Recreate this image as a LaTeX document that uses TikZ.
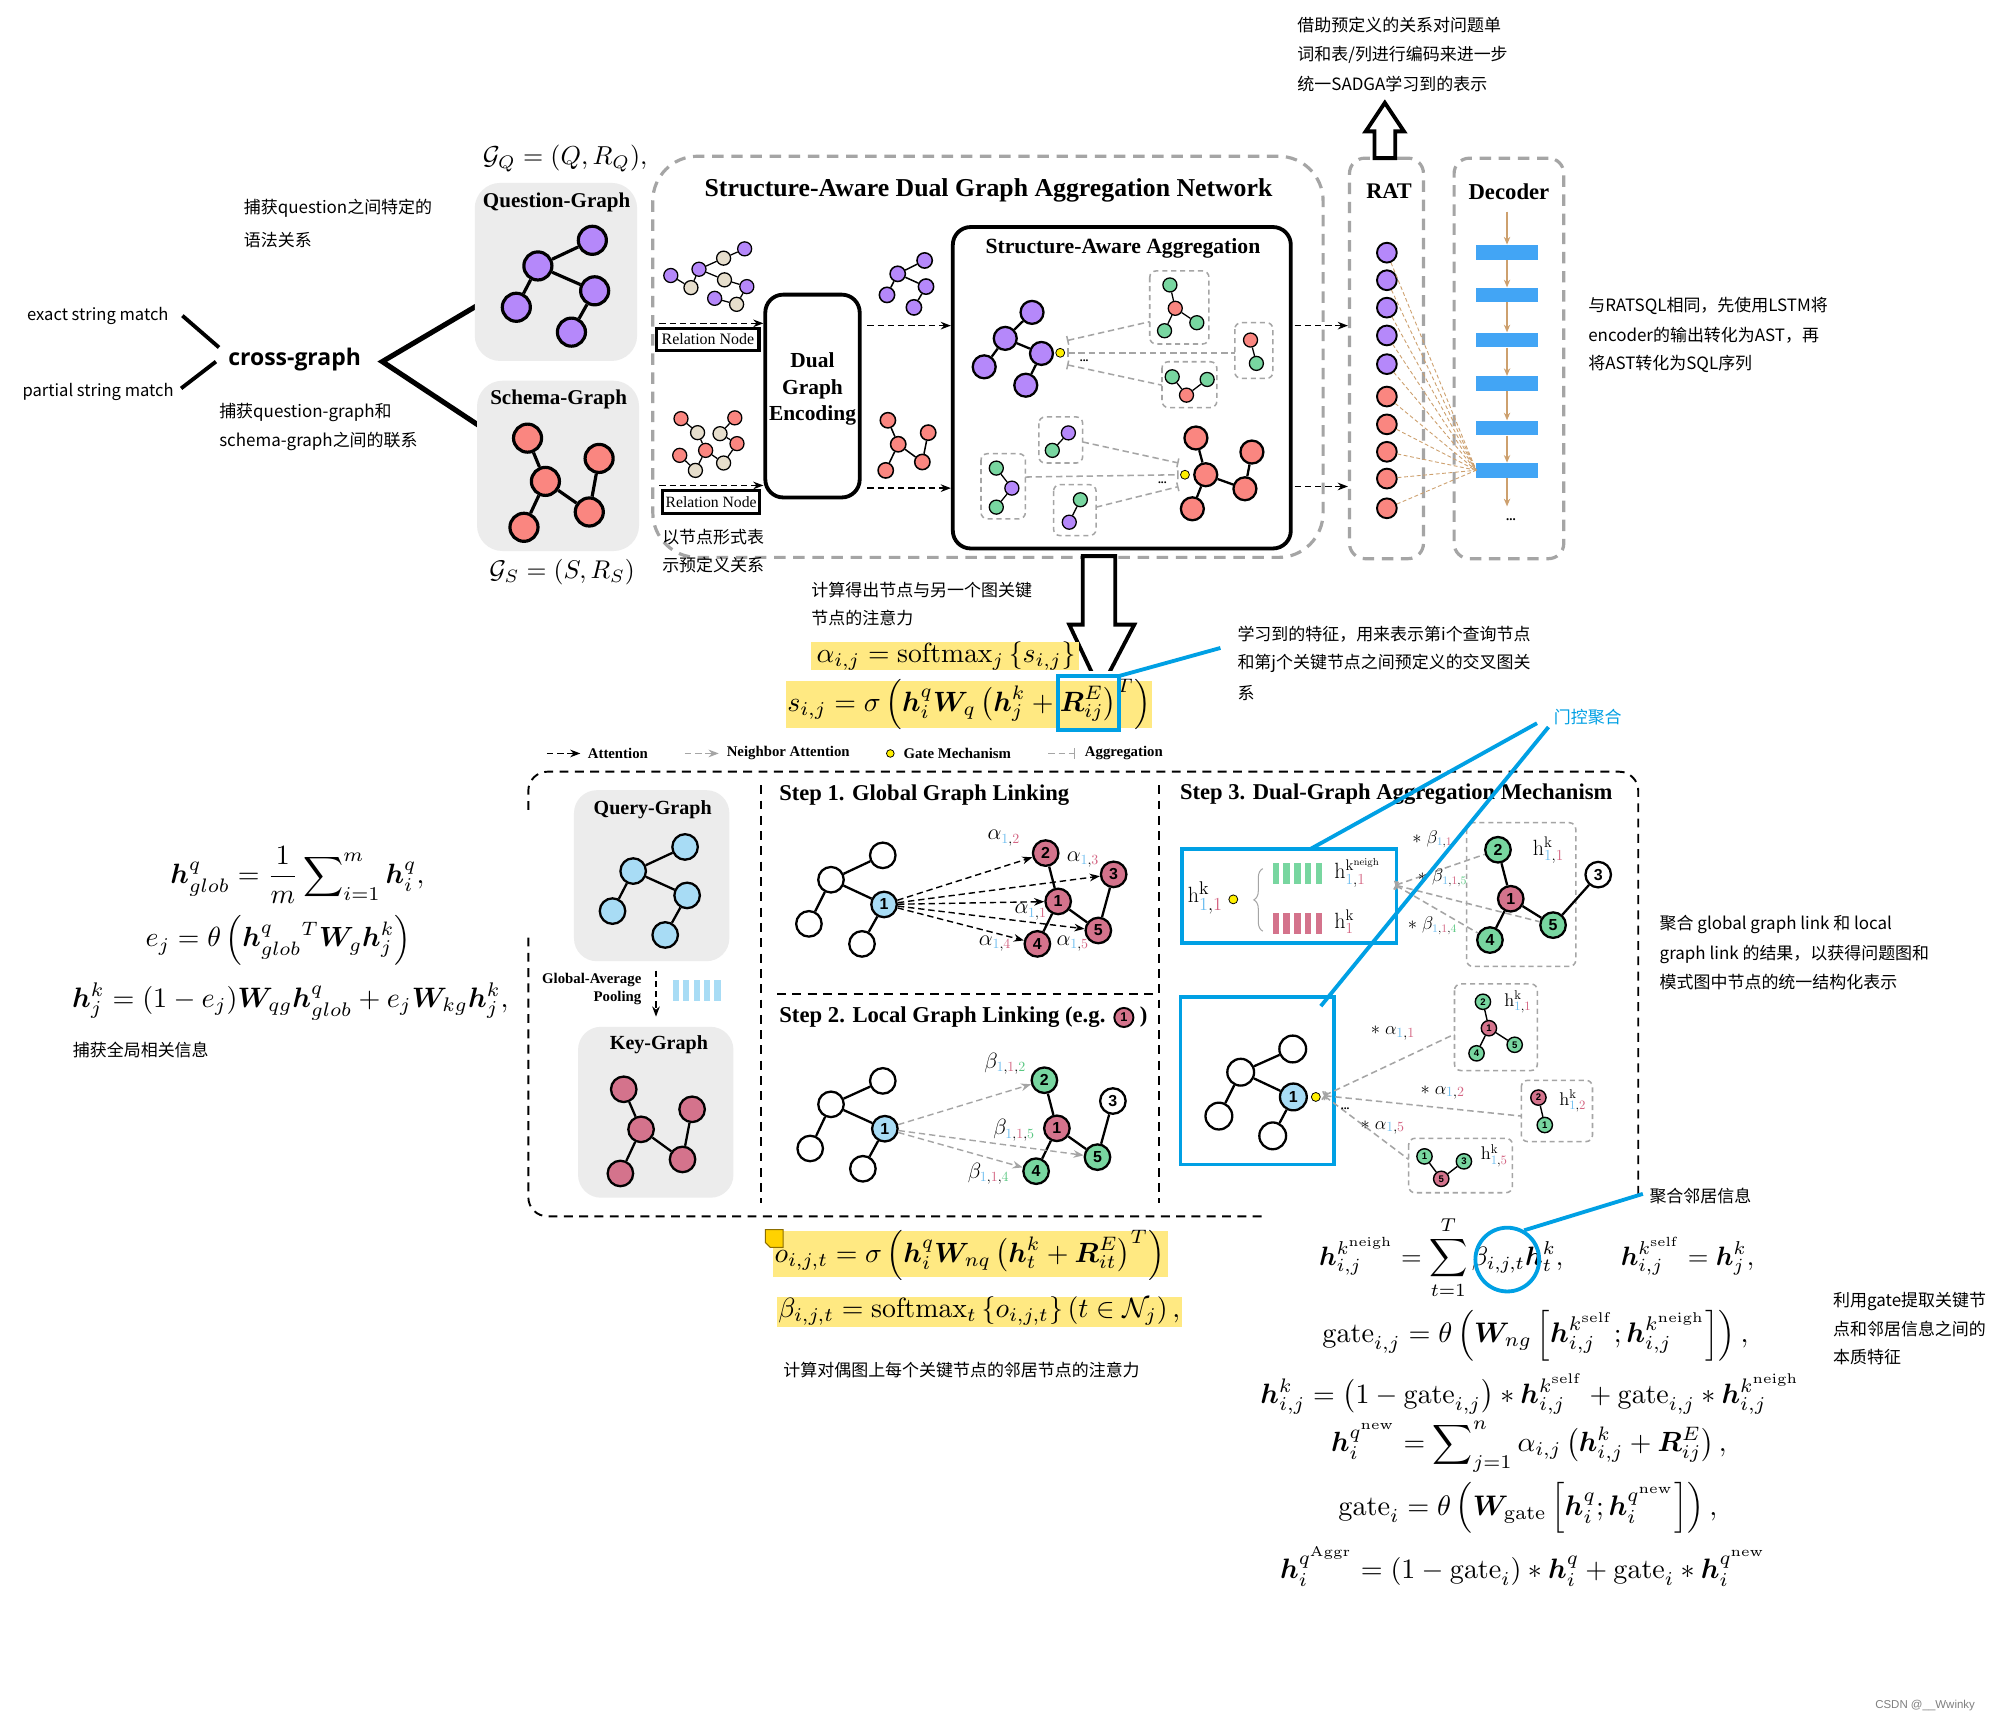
\documentclass[tikz,border=0pt]{standalone}
\usepackage[no-math]{fontspec}
\usepackage{amsmath,amssymb,bm}
\usepackage{graphicx}
\setmainfont{Liberation Serif}
\newfontfamily\cjk{Noto Sans CJK SC}
\newfontfamily\osans{Open Sans}
\newfontfamily\asans{Liberation Sans}
\usetikzlibrary{arrows.meta,calc,decorations.pathreplacing}
\definecolor{purp}{RGB}{181,136,250}
\definecolor{salm}{RGB}{250,134,128}
\definecolor{beig}{RGB}{230,222,204}
\definecolor{grn}{RGB}{120,214,160}
\definecolor{pnk}{RGB}{212,115,140}
\definecolor{lbl}{RGB}{168,220,245}
\definecolor{boxg}{RGB}{236,236,236}
\definecolor{dgr}{RGB}{165,165,165}
\definecolor{ablue}{RGB}{0,160,228}
\definecolor{barb}{RGB}{66,165,245}
\definecolor{tanc}{RGB}{205,160,110}
\definecolor{hly}{RGB}{255,233,130}
\definecolor{gatey}{RGB}{255,240,0}
\definecolor{sb}{RGB}{110,190,240}
\definecolor{sp}{RGB}{212,100,130}
\definecolor{sg}{RGB}{90,200,130}
\definecolor{noteY}{RGB}{255,210,0}
\definecolor{noteD}{RGB}{140,110,0}
\newcommand\fw[2]{\resizebox{#1pt}{!}{$\displaystyle #2$}}
\newcommand\alab[2]{$\alpha_{\textcolor{sb}{#1},\textcolor{sp}{#2}}$}
\newcommand\btlab[3]{$\beta_{\textcolor{sb}{#1},\textcolor{sp}{#2},\textcolor{sg}{#3}}$}
\newcommand\hklab[2]{$\mathrm{h}^{\mathrm{k}}_{\textcolor{sb}{#1},\textcolor{sp}{#2}}$}
\begin{document}
\begin{tikzpicture}[x=1pt,y=-1pt,
  big/.style={circle,draw,line width=2.5pt,minimum size=22pt,inner sep=0pt},
  ge/.style={line width=2.5pt},
  sm/.style={circle,draw,line width=1pt,minimum size=11pt,inner sep=0pt},
  se/.style={line width=1pt},
  md/.style={circle,draw,line width=1.8pt,minimum size=18pt,inner sep=0pt},
  me/.style={line width=1.8pt},
  ratn/.style={circle,draw,line width=1.5pt,minimum size=15.5pt,inner sep=0pt},
  stn/.style={circle,draw,line width=1.8pt,minimum size=20pt,inner sep=0pt,font=\asans\bfseries\fontsize{12.5}{12.5}\selectfont},
  ste/.style={line width=1.8pt},
  tn/.style={circle,draw,line width=1.1pt,minimum size=12pt,inner sep=0pt,font=\asans\bfseries\fontsize{7.5}{7.5}\selectfont},
  te/.style={line width=1.1pt},
  gate/.style={circle,draw,line width=0.6pt,fill=gatey,minimum size=7pt,inner sep=0pt},
  gbox/.style={draw=dgr,line width=1.2pt,dash pattern=on 4pt off 3pt,rounded corners=5pt},
  gdl/.style={draw=dgr,line width=1.2pt,dash pattern=on 5pt off 3pt},
  bigdash/.style={draw=dgr,line width=2.5pt,dash pattern=on 9pt off 6pt},
  bd/.style={draw=black,line width=1.5pt,dash pattern=on 7pt off 5pt},
  cn/.style={font=\cjk\fontsize{13.3}{16}\selectfont,anchor=west,inner sep=0pt},
  ttl/.style={font=\bfseries\fontsize{#1}{#1}\selectfont,inner sep=0pt},
  lab/.style={font=\fontsize{16}{16}\selectfont,inner sep=0pt},
  att/.style={draw=black,line width=1.1pt,dash pattern=on 5pt off 3pt,-{Stealth[length=8pt,width=6pt]}},
  natt/.style={draw=dgr,line width=1.1pt,dash pattern=on 5pt off 3pt,-{Stealth[length=8pt,width=6pt]}},
  tana/.style={draw=tanc,line width=1pt,-{Stealth[length=6pt,width=5pt]}},
  blu/.style={draw=ablue,line width=3pt},
  fm/.style={inner sep=0pt,anchor=west},
]
\fill[white] (0,0) rectangle (1568,1351);
\path[use as bounding box] (0,0) rectangle (1568,1351);

%% ---------- left top ----------
\node[cn] (t1) at (191,163.5) {捕获question之间特定的};
\node[cn] (t2) at (191,188.4) {语法关系};
\node[cn,font=\cjk\fontsize{13}{15}\selectfont] (esm) at (21,247.5) {exact string match};
\node[cn,font=\cjk\fontsize{13}{15}\selectfont] (psm) at (17.5,307.5) {partial string match};
\node[anchor=west,inner sep=0pt,font=\osans\bfseries\fontsize{18}{18}\selectfont] (cg) at (178.8,282) {cross-graph};
\coordinate (l1a) at (143,247.5); \coordinate (l1b) at (171.7,272.4);
\coordinate (l2a) at (142,304.5); \coordinate (l2b) at (169.3,283.5);
\draw[line width=3pt] (l1a) -- (l1b);
\draw[line width=3pt] (l2a) -- (l2b);
\coordinate (v1) at (381,235.5); \coordinate (v2) at (299.7,283.5); \coordinate (v3) at (376.8,334.5);
\draw[line width=4pt] (v1) -- (v2) -- (v3);
\node[cn] (t3) at (171.7,323.4) {捕获question-graph和};
\node[cn] (t4) at (171.7,345.9) {schema-graph之间的联系};

\fill[boxg,rounded corners=20pt] (372.2,143.4) rectangle (499.5,283);
\fill[boxg,rounded corners=20pt] (374,298.5) rectangle (501,432);
\node[ttl=16.5] (qgt) at (436.4,158.4) {Question-Graph};
\node[ttl=16.5] (sgt) at (438,313) {Schema-Graph};
\foreach \n/\x/\y in {q1/464.4/188.4, q2/421.7/208.5, q3/466.2/228, q4/404.8/240.9, q5/448/260.4}
  \node[big,fill=purp] (\n) at (\x,\y) {};
\draw[ge] (q2)--(q1) (q2)--(q3) (q2)--(q4) (q3)--(q5);
\foreach \n/\x/\y in {s1/413.6/343.5, s2/469.7/359.4, s3/427.6/377.4, s4/462/401.4, s5/410.8/413.4}
  \node[big,fill=salm] (\n) at (\x,\y) {};
\draw[ge] (s1)--(s3) (s3)--(s4) (s4)--(s2) (s3)--(s5);
\node[inner sep=0pt] (gq) at (443,124.5) {\fw{129}{\mathcal{G}_Q=(Q,R_Q),}};
\node[inner sep=0pt] (gs) at (440.7,448.5) {\fw{114}{\mathcal{G}_S=(S,R_S)}};

%% ---------- SADGA ----------
\node[bigdash,rounded corners=35pt,minimum width=525.5pt,minimum height=314.5pt,inner sep=0pt] (sadgabox) at (774.55,279.75) {};
\node[ttl=20.2] (sadga) at (775,149.5) {Structure-Aware Dual Graph Aggregation Network};

\foreach \n/\x/\y/\c in {a1/583.8/195.1/purp, a2/525.9/216.0/purp, a3/548.0/211.1/purp, a4/585.5/224.7/purp, a5/560.3/233.9/purp,
  b1/567.3/202.4/beig, b2/541.7/225.5/beig, b3/568.0/219.4/beig, b4/577.5/238.6/beig}
  \node[sm,fill=\c] (\n) at (\x,\y) {};
\draw[se] (a2)--(b2) (b2)--(a3) (a3)--(b1) (b1)--(a1) (a3)--(b3) (b3)--(a4) (a4)--(b4) (b4)--(a5);
\foreach \n/\x/\y/\c in {c1/533.9/328.2/salm, c2/576.1/327.6/salm, c3/553.2/353.1/salm, c4/532.9/357.0/salm, c5/577.8/347.8/salm,
  d1/546.9/339.2/beig, d2/564.5/340.0/beig, d3/545.2/368.8/beig, d4/567.3/363.0/beig}
  \node[sm,fill=\c] (\n) at (\x,\y) {};
\draw[se] (c1)--(d1) (d1)--(c3) (c3)--(d3) (d3)--(c4) (c3)--(d4) (d4)--(c5) (c5)--(d2) (d2)--(c2);

\node[draw,line width=3pt,rounded corners=14pt,minimum width=74pt,minimum height=159pt,inner sep=0pt] (enc) at (637,310.5) {};
\node[align=center,inner sep=0pt,font=\bfseries\fontsize{16.8}{20.5}\selectfont] (enct) at (637,305) {Dual\\Graph\\Encoding};

\coordinate (ra1) at (517,253.5); \coordinate (ra2) at (517,380.6);
\draw[att] (ra1) -- (enc.west |- ra1);
\draw[att] (ra2) -- (enc.west |- ra2);
\node[draw,line width=2.5pt,inner sep=0pt,minimum width=80pt,minimum height=17pt,font=\fontsize{12.5}{12.5}\selectfont] (rn1) at (555,266) {Relation Node};
\node[draw,line width=2.5pt,inner sep=0pt,minimum width=76pt,minimum height=18pt,font=\fontsize{12.3}{12.3}\selectfont] (rn2) at (557.5,393.5) {Relation Node};
\node[cn] (t5) at (519,421) {以节点形式表};
\node[cn] (t6) at (519,443) {示预定义关系};

\foreach \n/\x/\y in {m1/724.9/204.2, m2/703.8/214.7, m3/726.0/224.7, m4/695.4/231.2, m5/716.5/241.0}
  \node[sm,minimum size=12pt,line width=1.2pt,fill=purp] (\n) at (\x,\y) {};
\draw[se,line width=1.2pt] (m2)--(m1) (m2)--(m3) (m2)--(m4) (m3)--(m5);
\foreach \n/\x/\y in {n1/696.1/329.5, n2/727.7/339.2, n3/704.2/348.3, n4/723.1/362.2, n5/694.4/368.8}
  \node[sm,minimum size=12pt,line width=1.2pt,fill=salm] (\n) at (\x,\y) {};
\draw[se,line width=1.2pt] (n1)--(n3) (n3)--(n4) (n4)--(n2) (n3)--(n5);

\node[draw,line width=3pt,rounded corners=14pt,minimum width=265pt,minimum height=252pt,inner sep=0pt] (saa) at (879.5,304) {};
\node[ttl=17] (saat) at (880.4,194.6) {Structure-Aware Aggregation};
\coordinate (ea1) at (680,255.3); \coordinate (ea2) at (680,382.7);
\draw[att] (ea1) -- (saa.west |- ea1);
\draw[att] (ea2) -- (saa.west |- ea2);

% upper aggregation
\foreach \n/\x/\y in {A1/809.1/244.9, A2/788.1/265.3, A3/816.5/277.1, A4/771.6/287.6, A5/804.2/302.0}
  \node[md,fill=purp] (\n) at (\x,\y) {};
\draw[me] (A2)--(A1) (A2)--(A3) (A2)--(A4) (A3)--(A5);
\draw[gbox] (901.4,212.4) rectangle (947.8,269.7);
\draw[gbox] (968.1,253) rectangle (998,296.7);
\draw[gbox] (911,283.6) rectangle (954,319.5);
\foreach \n/\x/\y/\c in {ba1/917.2/223.4/grn, ba2/921.4/241.7/salm, ba3/913.0/259.3/grn, ba4/938.3/253.0/grn,
  bb1/980.4/266.6/salm, bb2/985/284.9/grn, bc1/919/295.4/grn, bc2/946.4/297.5/grn, bc3/930.2/309.8/salm}
  \node[sm,fill=\c] (\n) at (\x,\y) {};
\draw[se] (ba1)--(ba2) (ba2)--(ba3) (ba2)--(ba4) (bb1)--(bb2) (bc1)--(bc3) (bc3)--(bc2);
\node[gate] (g1) at (831.2,276.6) {};
\coordinate (g1a) at (836.5,267); \coordinate (g1b) at (836.5,276.6); \coordinate (g1c) at (836.5,286);
\coordinate (ta) at (901.4,252.2); \coordinate (tb) at (968.1,276.6); \coordinate (tc) at (911,302);
\draw[gdl,{Bar[width=7pt]}-] (g1a) -- (ta);
\draw[gdl,{Bar[width=7pt]}-] (g1b) -- (tb);
\draw[gdl,{Bar[width=7pt]}-] (g1c) -- (tc);
\node[font=\bfseries\fontsize{9}{9}\selectfont,inner sep=0pt] (dots1) at (850,283) {...};

% lower aggregation
\foreach \n/\x/\y in {E1/937.6/343.4, E2/981.5/354.4, E3/945.3/372.2, E4/976/383.2, E5/934.8/398.9}
  \node[md,fill=salm] (\n) at (\x,\y) {};
\draw[me] (E1)--(E3) (E3)--(E4) (E4)--(E2) (E3)--(E5);
\draw[gbox] (814.4,326.9) rectangle (848.8,363);
\draw[gbox] (769.1,355.7) rectangle (803.9,406.8);
\draw[gbox] (826,380) rectangle (859.3,419.9);
\foreach \n/\x/\y/\c in {bd1/837.6/339.4/purp, bd2/825/353.1/grn, be1/781.1/367/grn, be2/793.3/382.7/purp, be3/781.1/397.6/grn,
  bf1/847/391.8/grn, bf2/838.3/409.4/purp}
  \node[sm,fill=\c] (\n) at (\x,\y) {};
\draw[se] (bd1)--(bd2) (be1)--(be2) (be2)--(be3) (bf1)--(bf2);
\node[gate] (g2) at (929,372.2) {};
\coordinate (g2a) at (924,363); \coordinate (g2b) at (924,372.2); \coordinate (g2c) at (924,381.5);
\coordinate (td) at (848.8,346.5); \coordinate (te) at (803.9,374); \coordinate (tf) at (859.3,397.6);
\draw[gdl,-{Bar[width=7pt]}] (td) -- (g2a);
\draw[gdl,-{Bar[width=7pt]}] (te) -- (g2b);
\draw[gdl,-{Bar[width=7pt]}] (tf) -- (g2c);
\node[font=\bfseries\fontsize{9}{9}\selectfont,inner sep=0pt] (dots2) at (911.3,378.5) {...};

%% ---------- RAT / Decoder ----------
\node[bigdash,rounded corners=12pt,minimum width=58pt,minimum height=314pt,inner sep=0pt] (ratbox) at (1087,281) {};
\node[bigdash,rounded corners=12pt,minimum width=86pt,minimum height=314pt,inner sep=0pt] (decbox) at (1183,281) {};
\node[ttl=17.5] (ratt) at (1089,150) {RAT};
\node[ttl=17.8] (dect) at (1183,150) {Decoder};
\coordinate (oa1) at (1015,255.3); \coordinate (oa2) at (1015,381.4);
\draw[att] (oa1) -- (ratbox.west |- oa1);
\draw[att] (oa2) -- (ratbox.west |- oa2);
\foreach \i/\y in {1/197.7, 2/231.2, 3/266.5, 4/300.7, 5/335.5, 6/368.7}
  \node[fill=barb,minimum width=48pt,minimum height=11.5pt,inner sep=0pt] (dk\i) at (1181.5,\y) {};
\coordinate (dtop) at (1181.5,166); \coordinate (dend) at (1181.5,397);
\draw[tana] (dtop) -- (dk1);
\draw[tana] (dk1) -- (dk2); \draw[tana] (dk2) -- (dk3); \draw[tana] (dk3) -- (dk4);
\draw[tana] (dk4) -- (dk5); \draw[tana] (dk5) -- (dk6); \draw[tana] (dk6) -- (dend);
\node[font=\bfseries\fontsize{10}{10}\selectfont,inner sep=0pt] (dots3) at (1184.6,407.5) {...};
\foreach \i/\y/\c in {1/198.1/purp, 2/219.7/purp, 3/241.2/purp, 4/263.0/purp, 5/285.5/purp,
  6/310.9/salm, 7/332.7/salm, 8/354.2/salm, 9/375.2/salm, 10/398.5/salm}
  \node[ratn,fill=\c] (r\i) at (1087.3,\y) {};
\foreach \i in {1,...,10}
  \draw[tanc,line width=0.7pt,dash pattern=on 3pt off 2pt] (r\i) -- (dk6.west);
\draw[line width=3pt,fill=white] (1077.6,124) -- (1077.6,103) -- (1070.7,103) -- (1085.7,80.6) -- (1100.7,103) -- (1093.8,103) -- (1093.8,124) -- cycle;
\node[cn] (t7) at (1017,20) {借助预定义的关系对问题单};
\node[cn] (t8) at (1017,43) {词和表/列进行编码来进一步};
\node[cn] (t9) at (1017,66) {统一SADGA学习到的表示};
\node[cn] (t10) at (1245,240) {与RATSQL相同，先使用LSTM将};
\node[cn] (t11) at (1245,263) {encoder的输出转化为AST，再};
\node[cn] (t12) at (1245,285) {将AST转化为SQL序列};

%% ---------- middle formulas ----------
\draw[line width=3pt,fill=white] (848.8,436) -- (848.8,489.7) -- (838.3,489.7) -- (862.5,541) -- (889.3,489.7) -- (874.3,489.7) -- (874.3,436) -- cycle;
\fill[white] (612,526) rectangle (905,576);
\node[cn] (t13) at (636,462.5) {计算得出节点与另一个图关键};
\node[cn] (t14) at (636,484.5) {节点的注意力};
\fill[hly] (636,503) rectangle (846,525);
\node[fm] (fa) at (640,514) {\fw{203}{\alpha_{i,j}=\operatorname{softmax}_j\left\{s_{i,j}\right\}}};
\fill[hly] (616,534) rectangle (903,571);
\node[fm] (fs) at (617,552) {\fw{285}{s_{i,j}=\sigma\left(\bm{h}_i^q\bm{W}_q\left(\bm{h}_j^k+\bm{R}_{ij}^E\right)^T\right)}};
\draw[blu] (829.3,530) rectangle (877.3,572);
\coordinate (bl1a) at (877.3,530); \coordinate (bl1b) at (956.8,508);
\draw[blu] (bl1a) -- (bl1b);
\node[cn] (t15) at (970,497) {学习到的特征，用来表示第i个查询节点};
\node[cn] (t16) at (970,520) {和第j个关键节点之间预定义的交叉图关};
\node[cn] (t17) at (970,543) {系};
\node[cn,text=ablue] (t18) at (1218,562) {门控聚合};

%% ---------- legend ----------
\coordinate (lg1a) at (428.8,590.7); \coordinate (lg1b) at (455,590.7);
\draw[att] (lg1a) -- (lg1b);
\node[ttl=11.6,anchor=west] (lgt1) at (460.7,590.7) {Attention};
\coordinate (lg2a) at (537,590.7); \coordinate (lg2b) at (563.5,590.7);
\draw[natt] (lg2a) -- (lg2b);
\node[ttl=11.6,anchor=west] (lgt2) at (569.6,590.7) {Neighbor Attention};
\node[gate,minimum size=6pt] (lgg) at (698,590.7) {};
\node[ttl=11.6,anchor=west] (lgt3) at (708.3,590.7) {Gate Mechanism};
\coordinate (lg4a) at (822,590.7); \coordinate (lg4b) at (843,590.7);
\draw[gdl,-{Bar[width=8pt]}] (lg4a) -- (lg4b);
\node[ttl=11.6,anchor=west] (lgt4) at (850.4,590.7) {Aggregation};

%% ---------- lower frame ----------
\draw[bd,rounded corners=15pt] (414.2,635) |- (1284.4,605) -- (1284.4,940);
\draw[bd,rounded corners=15pt] (414.2,735) |- (990,953.6);
\draw[bd] (596.9,615.6) -- (596.9,943);
\draw[bd] (609.2,779.3) -- (905,779.3);
\draw[bd] (908.8,615.6) -- (908.8,943);

\fill[boxg,rounded corners=18pt] (450,619.5) rectangle (571.8,753.6);
\fill[boxg,rounded corners=18pt] (453.2,805) rectangle (575,939);
\node[ttl=15.7] (qyt) at (511.7,635.2) {Query-Graph};
\node[ttl=15.7] (kyt) at (516.6,819) {Key-Graph};
\foreach \n/\x/\y in {Qa/537.1/664.0, Qb/496.4/682.9, Qc/538.7/702.0, Qd/480.2/714.3, Qe/521.5/733.0}
  \node[stn,fill=lbl] (\n) at (\x,\y) {};
\draw[ste] (Qb)--(Qa) (Qb)--(Qc) (Qb)--(Qd) (Qc)--(Qe);
\foreach \n/\x/\y in {Ka/489/854, Kb/542.6/869.7, Kc/502.6/885.4, Kd/535.1/909, Ke/486.4/920}
  \node[stn,fill=pnk] (\n) at (\x,\y) {};
\draw[ste] (Ka)--(Kc) (Kc)--(Kd) (Kd)--(Kb) (Kc)--(Ke);
\node[ttl=11.6,anchor=east] (gap1) at (503,768.3) {Global-Average};
\node[ttl=11.6,anchor=east] (gap2) at (503,782.5) {Pooling};
\coordinate (pa) at (514.3,761); \coordinate (pb) at (514.3,797);
\draw[att] (pa) -- (pb);
\foreach \i in {0,...,4} \fill[lbl] ({527.3+\i*8.2},768.3) rectangle ++(5,16.3);

% step 1
\node[ttl=17.7,anchor=west] (st1) at (610.8,623.4) {Step 1. Global Graph Linking};
\foreach \n/\x/\y/\c/\t in {Wa/692.1/670.6/white/{}, Wb/651.5/689.7/white/{}, Wc/693.1/709.1/lbl/1, Wd/634.2/724.3/white/{}, We/675.8/740/white/{}}
  \node[stn,fill=\c] (\n) at (\x,\y) {\t};
\draw[ste] (Wb)--(Wa) (Wb)--(Wc) (Wb)--(Wd) (Wc)--(We);
\foreach \n/\x/\y/\t in {Pb/819.8/668.8/2, Pc/873.1/685.5/3, Pa/829.6/706.7/1, Pe/861.1/729.5/5, Pd/813.3/740/4}
  \node[stn,fill=pnk] (\n) at (\x,\y) {\t};
\draw[ste] (Pb)--(Pa) (Pa)--(Pd) (Pa)--(Pe) (Pe)--(Pc);
\draw[att] (Wc) -- (Pb); \draw[att] (Wc) -- (Pc); \draw[att] (Wc) -- (Pa);
\draw[att] (Wc) -- (Pe); \draw[att] (Wc) -- (Pd);
\node[lab] (al2) at (787,657) {\alab{1}{2}};
\node[lab] (al3) at (849,674) {\alab{1}{3}};
\node[lab] (al1) at (808,715) {\alab{1}{1}};
\node[lab] (al4) at (780,740) {\alab{1}{4}};
\node[lab] (al5) at (841,740) {\alab{1}{5}};

% step 2
\node[ttl=17.8,anchor=west] (st2) at (610.8,797.7) {Step 2. Local Graph Linking (e.g.};
\node[circle,draw,line width=1.5pt,fill=pnk,minimum size=15pt,inner sep=0pt,font=\asans\bfseries\fontsize{10}{10}\selectfont,anchor=west] (eg1) at ($(st2.east)+(6,0)$) {1};
\node[ttl=17.8,anchor=west] (st2b) at ($(eg1.east)+(4,0)$) {)};
\foreach \n/\x/\y/\c/\t in {Va/692.1/847.4/white/{}, Vb/651.5/865.8/white/{}, Vc/693.7/884.9/lbl/1, Vd/635.2/900.4/white/{}, Ve/676.5/916.3/white/{}}
  \node[stn,fill=\c] (\n) at (\x,\y) {\t};
\draw[ste] (Vb)--(Va) (Vb)--(Vc) (Vb)--(Vd) (Vc)--(Ve);
\foreach \n/\x/\y/\c/\t in {Ub/818.8/846.9/grn/2, Uc/872.5/863.2/white/3, Ua/828.6/884.6/pnk/1, Ue/860.4/907.2/grn/5, Ud/812.3/918.2/grn/4}
  \node[stn,fill=\c] (\n) at (\x,\y) {\t};
\draw[ste] (Ub)--(Ua) (Ua)--(Ud) (Ua)--(Ue) (Ue)--(Uc);
\draw[natt] (Vc) -- (Ub); \draw[natt] (Vc) -- (Ue); \draw[natt] (Vc) -- (Ud);
\node[lab] (bt2) at (788,834) {\btlab{1}{1}{2}};
\node[lab] (bt5) at (795,886) {\btlab{1}{1}{5}};
\node[lab] (bt4) at (775,920) {\btlab{1}{1}{4}};

% step 3
\node[ttl=17.7,anchor=west] (st3) at (925,623) {Step 3. Dual-Graph Aggregation Mechanism};
\draw[blu] (926.8,665.7) rectangle (1094.8,739.5);
\node[font=\fontsize{19}{19}\selectfont,inner sep=0pt] (hk0) at (945,704) {\hklab{1}{1}};
\node[gate] (g3) at (966.9,705.1) {};
\draw[dgr,line width=0.8pt,decorate,decoration={brace,amplitude=7pt}] (990,730) -- (990,681);
\foreach \i in {0,...,4} {
  \fill[grn] ({997.8+\i*8.4},676.9) rectangle ++(5,16);
  \fill[pnk] ({997.8+\i*8.4},715.7) rectangle ++(5,16.6);
}
\node[anchor=west,inner sep=0pt,font=\fontsize{17}{17}\selectfont] (hng) at (1046,684) {$\mathrm{h}^{\mathrm{k}^{\mathrm{neigh}}}_{\textcolor{sb}{1},\textcolor{sp}{1}}$};
\node[anchor=west,inner sep=0pt,font=\fontsize{17}{17}\selectfont] (hk1) at (1046,722.7) {$\mathrm{h}^{\mathrm{k}}_{\textcolor{sp}{1}}$};
\draw[gbox] (1149.8,645) rectangle (1235.4,757.7);
\foreach \n/\x/\y/\c/\t in {Xb/1174.4/666.2/grn/2, Xa/1184.4/704.6/pnk/1, Xe/1217.6/725.3/grn/5, Xd/1168.1/737/grn/4, Xc/1253/685.7/white/3}
  \node[stn,fill=\c] (\n) at (\x,\y) {\t};
\draw[ste] (Xb)--(Xa) (Xa)--(Xd) (Xa)--(Xe) (Xe)--(Xc);
\node[font=\fontsize{18}{18}\selectfont,inner sep=0pt] (hk2) at (1214,666.5) {\hklab{1}{1}};
\coordinate (T1) at (1094,694);
\draw[gdl,{Bar[width=7pt]}-] (T1) -- (Xb);
\draw[gdl,{Bar[width=7pt]}-] (T1) -- (Xe);
\draw[gdl,{Bar[width=7pt]}-] (T1) -- (Xd);
\node[font=\fontsize{13.5}{13.5}\selectfont,inner sep=0pt] (sb1) at (1123,658) {$*\;\beta_{\textcolor{sb}{1},\textcolor{sp}{1}}$};
\node[font=\fontsize{13.5}{13.5}\selectfont,inner sep=0pt] (sb2) at (1131,688) {$*\;$\btlab{1}{1}{5}};
\node[font=\fontsize{13.5}{13.5}\selectfont,inner sep=0pt] (sb3) at (1123,726) {$*\;$\btlab{1}{1}{4}};

\draw[blu] (925.5,781.8) rectangle (1046,913);
\foreach \n/\x/\y/\c/\t in {Ya/1013.5/822.4/white/{}, Yb/972.7/840.6/white/{}, Yc/1014/860/lbl/1, Yd/955.6/875/white/{}, Ye/997.8/890.5/white/{}}
  \node[stn,minimum size=21pt,fill=\c] (\n) at (\x,\y) {\t};
\draw[ste] (Yb)--(Ya) (Yb)--(Yc) (Yb)--(Yd) (Yc)--(Ye);
\node[gate] (g4) at (1031.6,860) {};
\coordinate (T2) at (1038,859);
\draw[gbox] (1140.3,771.4) rectangle (1205.3,839.3);
\draw[gbox] (1192.7,847) rectangle (1248.5,895);
\draw[gbox] (1104.4,892.4) rectangle (1185.7,935.1);
\foreach \n/\x/\y/\c/\t in {Zb/1162.6/785.4/grn/2, Za/1167.3/806.1/pnk/1, Zd/1157.6/825.8/grn/4, Ze/1187.5/819.1/grn/5,
  Hb/1206.1/860.5/pnk/2, Ha/1211.1/882/grn/1, Ja/1116.8/906.6/grn/1, Jc/1147.7/910.5/grn/3, Je/1129.9/924.2/pnk/5}
  \node[tn,fill=\c] (\n) at (\x,\y) {\t};
\draw[te] (Zb)--(Za) (Za)--(Zd) (Za)--(Ze) (Hb)--(Ha) (Ja)--(Je) (Je)--(Jc);
\node[font=\fontsize{14}{14}\selectfont,inner sep=0pt] (hz1) at (1190,785.5) {\hklab{1}{1}};
\node[font=\fontsize{14}{14}\selectfont,inner sep=0pt] (hz2) at (1233,863) {\hklab{1}{2}};
\node[font=\fontsize{14}{14}\selectfont,inner sep=0pt] (hz3) at (1171.5,906) {\hklab{1}{5}};
\coordinate (tb11) at (1140.3,810.8); \coordinate (tb12) at (1192.7,875); \coordinate (tb15) at (1104.4,909);
\draw[gdl,{Bar[width=7pt]}-] (T2) -- (tb11);
\draw[gdl,{Bar[width=7pt]}-] (T2) -- (tb12);
\draw[gdl,{Bar[width=7pt]}-] (T2) -- (tb15);
\node[font=\bfseries\fontsize{9}{9}\selectfont,inner sep=0pt] (dots4) at (1054.7,869) {...};
\node[font=\fontsize{15}{15}\selectfont,inner sep=0pt] (sa1) at (1092,810) {$*\;$\alab{1}{1}};
\node[font=\fontsize{15}{15}\selectfont,inner sep=0pt] (sa2) at (1131,856.5) {$*\;$\alab{1}{2}};
\node[font=\fontsize{15}{15}\selectfont,inner sep=0pt] (sa3) at (1084,884) {$*\;$\alab{1}{5}};

%% ---------- right annotations ----------
\node[cn] (t19) at (1301,725) {聚合 global graph link 和 local};
\node[cn] (t20) at (1301,748) {graph link 的结果，以获得问题图和};
\node[cn] (t21) at (1301,770) {模式图中节点的统一结构化表示};

%% ---------- left formulas ----------
\node[fm] (L1) at (133.4,686) {\fw{199}{\bm{h}_{glob}^q=\frac{1}{m}\sum\nolimits_{i=1}^{m}\bm{h}_i^q,}};
\node[fm] (L2) at (114,737) {\fw{208}{e_j=\theta\left(\bm{h}_{glob}^q{}^T\bm{W}_g\bm{h}_j^k\right)}};
\node[fm] (L3) at (56.4,785) {\fw{342}{\bm{h}_j^k=(1-e_j)\bm{W}_{qg}\bm{h}_{glob}^q+e_j\bm{W}_{kg}\bm{h}_j^k,}};
\node[cn] (t22) at (57,823) {捕获全局相关信息};

%% ---------- bottom formulas ----------
\fill[hly] (606,965) rectangle (916,1001);
\draw[fill=noteY,draw=noteD,line width=0.8pt] (600,964) -- (614,964) -- (614,978) -- (604,978) -- (600,974) -- cycle;
\node[fm] (fo) at (607,984) {\fw{306}{o_{i,j,t}=\sigma\left(\bm{h}_i^q\bm{W}_{nq}\left(\bm{h}_t^k+\bm{R}_{it}^E\right)^T\right)}};
\fill[hly] (609,1017) rectangle (927,1040);
\node[fm] (fb) at (610,1028) {\fw{315}{\beta_{i,j,t}=\operatorname{softmax}_t\left\{o_{i,j,t}\right\}\left(t\in\mathcal{N}_j\right),}};
\node[cn] (t23) at (614,1074) {计算对偶图上每个关键节点的邻居节点的注意力};

\node[fm] (R1) at (1034,986) {\fw{341}{\bm{h}_{i,j}^{k^{\mathrm{neigh}}}=\sum_{t=1}^{T}\beta_{i,j,t}\bm{h}_t^k,\qquad\bm{h}_{i,j}^{k^{\mathrm{self}}}=\bm{h}_j^k,}};
\node[fm] (R2) at (1036.5,1047) {\fw{334}{\mathrm{gate}_{i,j}=\theta\left(\bm{W}_{ng}\left[\bm{h}_{i,j}^{k^{\mathrm{self}}};\bm{h}_{i,j}^{k^{\mathrm{neigh}}}\right]\right),}};
\node[fm] (R3) at (988,1093) {\fw{423}{\bm{h}_{i,j}^k=\left(1-\mathrm{gate}_{i,j}\right)*\bm{h}_{i,j}^{k^{\mathrm{self}}}+\mathrm{gate}_{i,j}*\bm{h}_{i,j}^{k^{\mathrm{neigh}}}}};
\node[fm] (R4) at (1043.4,1134) {\fw{310}{\bm{h}_i^{q^{\mathrm{new}}}=\sum\nolimits_{j=1}^{n}\alpha_{i,j}\left(\bm{h}_{i,j}^k+\bm{R}_{ij}^E\right),}};
\node[fm] (R5) at (1049,1182.5) {\fw{297}{\mathrm{gate}_i=\theta\left(\bm{W}_{\mathrm{gate}}\left[\bm{h}_i^q;\bm{h}_i^{q^{\mathrm{new}}}\right]\right),}};
\node[fm] (R6) at (1003.4,1228) {\fw{381}{\bm{h}_i^{q^{\mathrm{Aggr}}}=\left(1-\mathrm{gate}_i\right)*\bm{h}_i^q+\mathrm{gate}_i*\bm{h}_i^{q^{\mathrm{new}}}}};
\node[cn] (t24) at (1293,938) {聚合邻居信息};
\node[cn] (t25) at (1437,1020) {利用gate提取关键节};
\node[cn] (t26) at (1437,1042) {点和邻居信息之间的};
\node[cn] (t27) at (1437,1064) {本质特征};
\node[anchor=west,inner sep=0pt,font=\asans\fontsize{9}{9}\selectfont,text=gray] (wm) at (1470,1337) {CSDN @\_\_Wwinky};

%% ---------- blue annotation lines ----------
\coordinate (bb1a) at (1205,567); \coordinate (bb1b) at (1027.2,665.7);
\coordinate (bb2a) at (1214,570); \coordinate (bb2b) at (1035.5,788.8);
\draw[blu] (bb1a) -- (bb1b);
\draw[blu] (bb2a) -- (bb2b);
\node[circle,draw=ablue,line width=3pt,minimum size=50pt,inner sep=0pt] (bcirc) at (1181.7,987.5) {};
\coordinate (bc2) at (1288,936);
\draw[blu] (bcirc.60) -- (bc2);
\end{tikzpicture}
\end{document}
